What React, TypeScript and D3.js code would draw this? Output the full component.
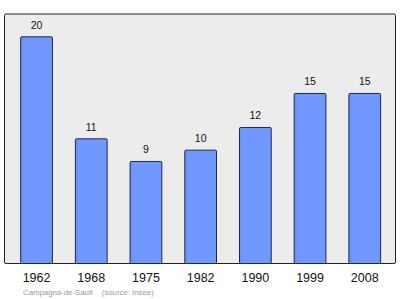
import React from "react";
import * as d3 from "d3";

const years = ["1962", "1968", "1975", "1982", "1990", "1999", "2008"];
const population = [20, 11, 9, 10, 12, 15, 15];
const footerCommune = "Campagna-de-Sault";
const footerSource = "(source: Insee)";

const W = 400;
const H = 299;
const frame = { left: 4.5, top: 14, right: 395.5, bottom: 263.5 };

export default function App() {
  const x = d3
    .scaleBand<string>()
    .domain(years)
    .range([9.2, 392.1])
    .paddingInner(0.42)
    .paddingOuter(0.21);

  const y = d3.scaleLinear().domain([0, 20]).range([frame.bottom, 36.8]);

  return (
    <svg
      width={W}
      height={H}
      style={{ position: "absolute", left: 0, top: 0, background: "#fff" }}
      fontFamily="'Liberation Sans', Arial, sans-serif"
    >
      <defs>
        <linearGradient id="barShade" x1="0" x2="1" y1="0" y2="0">
          <stop offset="0" stopColor="#6a8ef5" />
          <stop offset="0.12" stopColor="#7098ff" />
          <stop offset="1" stopColor="#7098ff" />
        </linearGradient>
      </defs>
      <rect
        x={frame.left}
        y={frame.top}
        width={frame.right - frame.left}
        height={frame.bottom - frame.top}
        fill="#ececec"
        stroke="#222"
        strokeWidth={1}
        rx={1.5}
      />
      {years.map((yr, i) => {
        const v = population[i];
        const bx = x(yr)!;
        const bw = x.bandwidth();
        const top = y(v);
        return (
          <g key={yr}>
            <rect
              x={bx}
              y={top}
              width={bw}
              height={frame.bottom - top}
              fill="url(#barShade)"
              stroke="#1e2a4a"
              strokeWidth={1}
              rx={1}
            />
            <text
              x={bx + bw / 2}
              y={top - 8}
              textAnchor="middle"
              fontSize={10.5}
              fill="#111"
            >
              {v}
            </text>
            <text
              x={bx + bw / 2}
              y={282}
              textAnchor="middle"
              fontSize={12.5}
              fill="#111"
            >
              {yr}
            </text>
          </g>
        );
      })}
      <text x={23} y={295} fontSize={7.8} fill="#999">
        {footerCommune}
        <tspan dx={9}>{footerSource}</tspan>
      </text>
    </svg>
  );
}
